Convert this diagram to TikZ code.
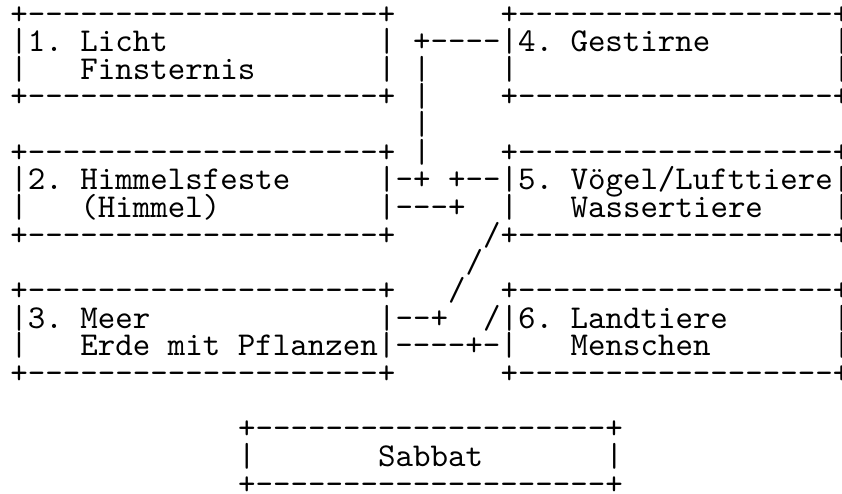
\documentclass[tikz,border=0pt]{standalone}
\tikzset{
  ascii/.style={anchor=base west, inner sep=0pt, outer sep=0pt,
    font=\fontsize{10pt}{8.3pt}\selectfont\ttfamily\frenchspacing, text=black},
}
% a run of n hyphens, kept apart so that no dash ligature forms
\newcommand\dashrun[1]{\foreach\k in {1,...,#1}{-}}
% a text segment placed on the character grid: name, column, row, text
\newcommand\seg[4]{\node[ascii] (#1) at ({10.5+17.5*(#2)},{24+27.65*(#3)}) {#4};}
\begin{document}
\begin{tikzpicture}[x=0.3pt,y=-0.3pt]
\useasboundingbox (0,0) rectangle (842,493);
% 1. Licht / Finsternis
\seg{b1top}{0}{0}{+\dashrun{20}+}
\seg{b1a}{0}{1}{|1. Licht}
\seg{b1ar}{21}{1}{|}
\seg{b1b}{0}{2}{|}
\seg{b1bt}{4}{2}{Finsternis}
\seg{b1br}{21}{2}{|}
\seg{b1bot}{0}{3}{+\dashrun{20}+}
% 4. Gestirne, with the link down to box 2
\seg{b4top}{28}{0}{+\dashrun{18}+}
\seg{b4a}{23}{1}{+\dashrun{4}|4. Gestirne}
\seg{b4ar}{47}{1}{|}
\seg{v2}{23}{2}{|}
\seg{b4b}{28}{2}{|}
\seg{b4br}{47}{2}{|}
\seg{v3}{23}{3}{|}
\seg{b4bot}{28}{3}{+\dashrun{18}+}
\seg{v4}{23}{4}{|}
\seg{v5}{23}{5}{|}
% 2. Himmelsfeste
\seg{b2top}{0}{5}{+\dashrun{20}+}
\seg{b2a}{0}{6}{|2. Himmelsfeste}
\seg{b2ar}{21}{6}{|-+}
\seg{b2b}{0}{7}{|}
\seg{b2bt}{4}{7}{(Himmel)}
\seg{b2br}{21}{7}{|\dashrun{3}+}
\seg{b2bot}{0}{8}{+\dashrun{20}+}
% 5. Voegel / Wassertiere
\seg{b5top}{28}{5}{+\dashrun{18}+}
\seg{b5a}{25}{6}{+\dashrun{2}|5. Vögel/Lufttiere|}
\seg{b5b}{28}{7}{|}
\seg{b5bt}{32}{7}{Wassertiere}
\seg{b5br}{47}{7}{|}
\seg{b5bot}{27}{8}{/+\dashrun{18}+}
% diagonal link
\seg{d9}{26}{9}{/}
\seg{d10}{25}{10}{/}
% 3. Meer / Erde mit Pflanzen
\seg{b3top}{0}{10}{+\dashrun{20}+}
\seg{b3a}{0}{11}{|3. Meer}
\seg{b3ar}{21}{11}{|\dashrun{2}+}
\seg{b3b}{0}{12}{|}
\seg{b3bt}{4}{12}{Erde mit Pflanzen|\dashrun{4}+-|}
\seg{b3bot}{0}{13}{+\dashrun{20}+}
% 6. Landtiere / Menschen
\seg{b6top}{28}{10}{+\dashrun{18}+}
\seg{b6a}{27}{11}{/|6. Landtiere}
\seg{b6ar}{47}{11}{|}
\seg{b6bt}{32}{12}{Menschen}
\seg{b6br}{47}{12}{|}
\seg{b6bot}{28}{13}{+\dashrun{18}+}
% Sabbat
\seg{b7top}{13}{15}{+\dashrun{20}+}
\seg{b7l}{13}{16}{|}
\seg{b7t}{21}{16}{Sabbat}
\seg{b7r}{34}{16}{|}
\seg{b7bot}{13}{17}{+\dashrun{20}+}
\end{tikzpicture}
\end{document}
